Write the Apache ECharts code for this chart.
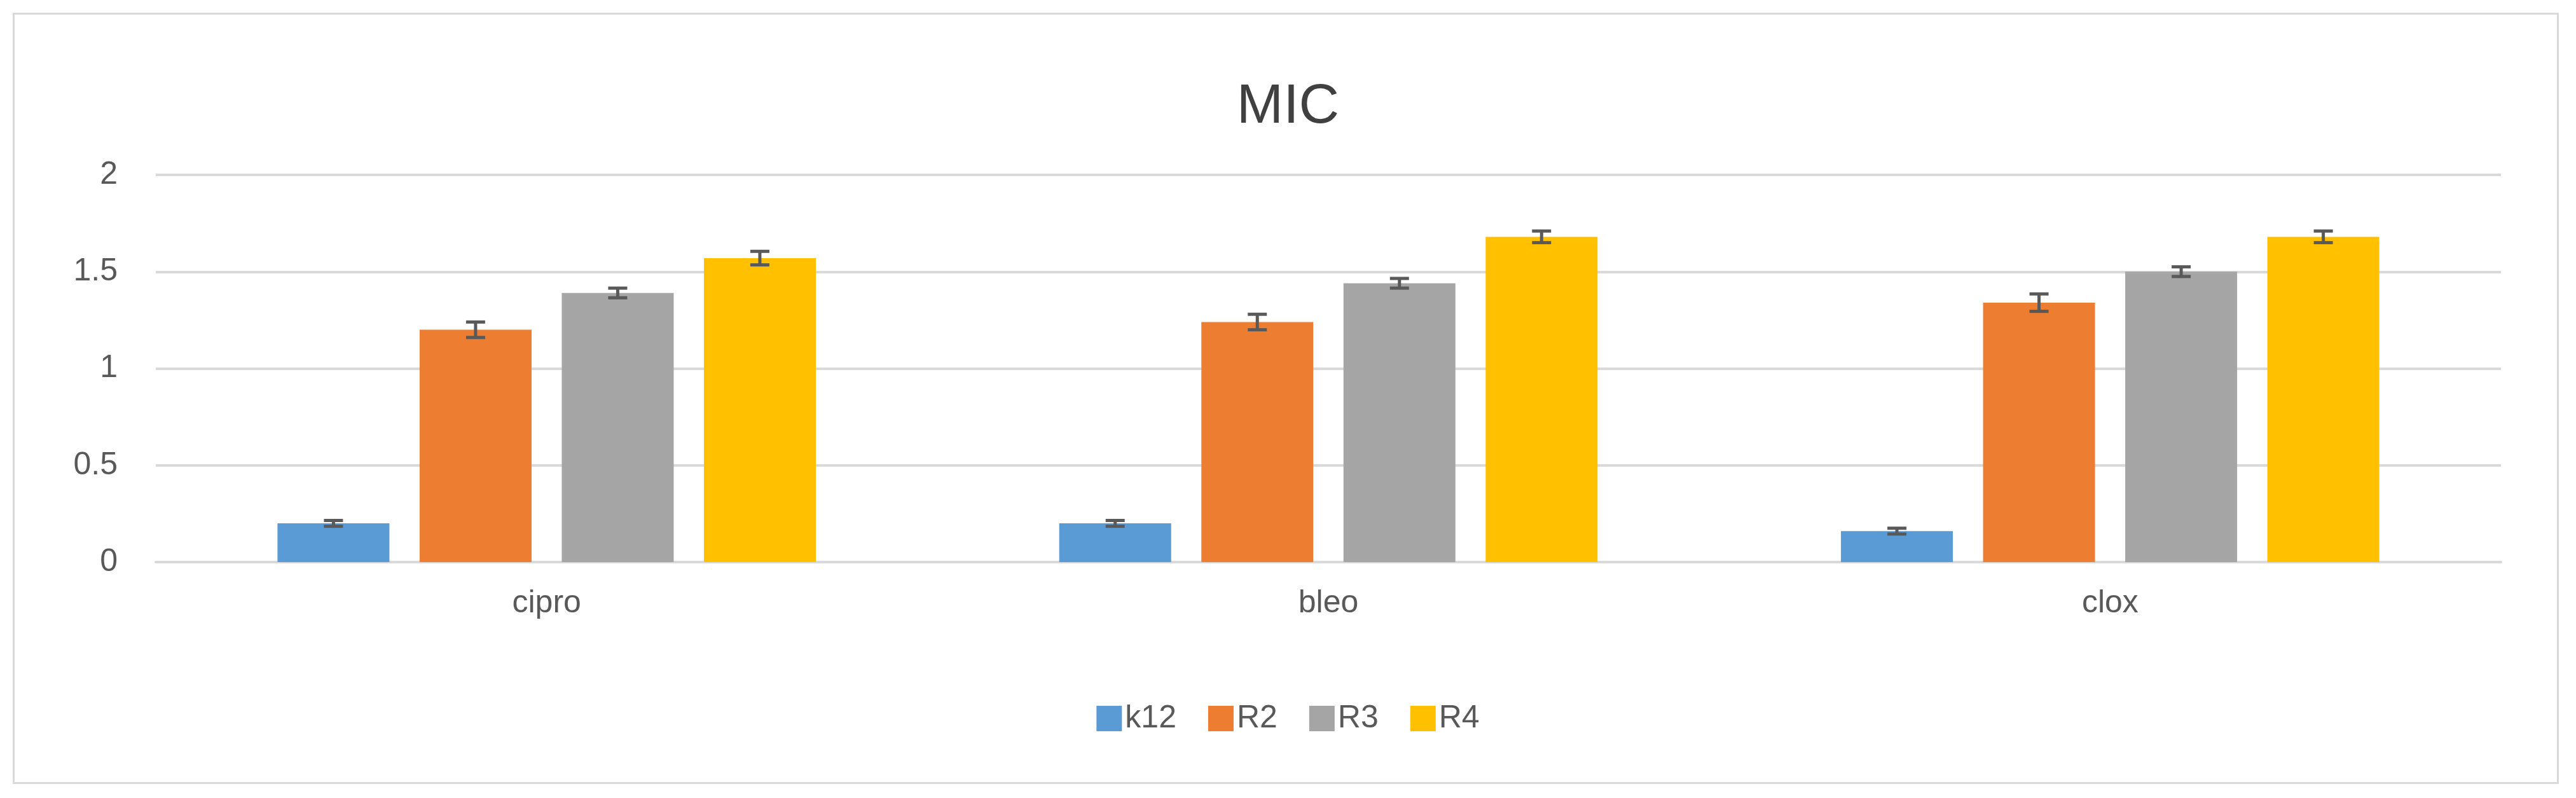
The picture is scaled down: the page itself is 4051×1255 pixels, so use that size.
<!DOCTYPE html>
<html><head><meta charset="utf-8">
<script src="https://cdn.jsdelivr.net/npm/echarts@6/dist/echarts.min.js"></script>
<style>html,body{margin:0;padding:0;background:#fff}#c{width:4051px;height:1255px}
#frame{position:absolute;left:20px;top:20px;width:4004px;height:1213px;border:3px solid #d9d9d9;box-sizing:border-box;pointer-events:none}</style>
</head><body><div id="c"></div><div id="frame"></div>
<script>
const categories = ['cipro','bleo','clox'];
const seriesNames = ['k12','R2','R3','R4'];
const k12 = [0.2, 0.2, 0.16];
const R2 = [1.2, 1.24, 1.34];
const R3 = [1.39, 1.44, 1.5];
const R4 = [1.57, 1.68, 1.68];
const k12Err = [0.015, 0.015, 0.015];
const R2Err = [0.04, 0.04, 0.045];
const R3Err = [0.025, 0.025, 0.025];
const R4Err = [0.035, 0.03, 0.03];
const colors = ['#5b9bd5','#ed7d31','#a5a5a5','#ffc000'];
const values = [k12, R2, R3, R4];
const errs = [k12Err, R2Err, R3Err, R4Err];

const chart = echarts.init(document.getElementById('c'));
const font = 'Liberation Sans, Arial, sans-serif';
const series = [];
values.forEach((v,i)=>{
  series.push({name: seriesNames[i], type:'bar', data:v, itemStyle:{color:colors[i]},
    barWidth:176, barGap:'27%', z:2});
});
values.forEach((v,i)=>{
  series.push({type:'custom', z:5, silent:true, data: v.map((y,j)=>[j,y,errs[i][j]]),
    renderItem:(params, api)=>{
      const j = api.value(0), y = api.value(1), e = api.value(2);
      const base = api.coord([j, y]);
      const catW = api.size([1,0])[0];
      const bw = 176, gap = bw*0.27;
      const total = 4*bw + 3*gap;
      const x = base[0] - total/2 + i*(bw+gap) + bw/2;
      const top = api.coord([j, y+e])[1], bot = api.coord([j, y-e])[1];
      const st = {stroke:'#595959', lineWidth:5};
      return {type:'group', children:[
        {type:'line', shape:{x1:x,y1:top,x2:x,y2:bot}, style:st},
        {type:'line', shape:{x1:x-15,y1:top,x2:x+15,y2:top}, style:st},
        {type:'line', shape:{x1:x-15,y1:bot,x2:x+15,y2:bot}, style:st}
      ]};
    }});
});
chart.setOption({
  animation:false,
  textStyle:{fontFamily:font},
  title:{text:'MIC', left:'center', top:120, textStyle:{fontSize:88, fontWeight:'normal', color:'#404040', fontFamily:font}},
  legend:{data:seriesNames, bottom:95, itemWidth:40, itemHeight:40, itemGap:50, icon:'rect',
    textStyle:{fontSize:50, color:'#595959', fontFamily:font}},
  grid:{left:245, right:118, top:275, bottom:371},
  xAxis:{type:'category', data:categories, axisTick:{show:false},
    axisLine:{lineStyle:{color:'#d9d9d9', width:4}},
    axisLabel:{fontSize:50, color:'#595959', margin:40, fontFamily:font}},
  yAxis:{type:'value', min:0, max:2, interval:0.5, axisLine:{show:false},
    splitLine:{lineStyle:{color:'#d9d9d9', width:4}},
    axisLabel:{fontSize:50, color:'#595959', margin:60, fontFamily:font}},
  series
});
</script></body></html>
